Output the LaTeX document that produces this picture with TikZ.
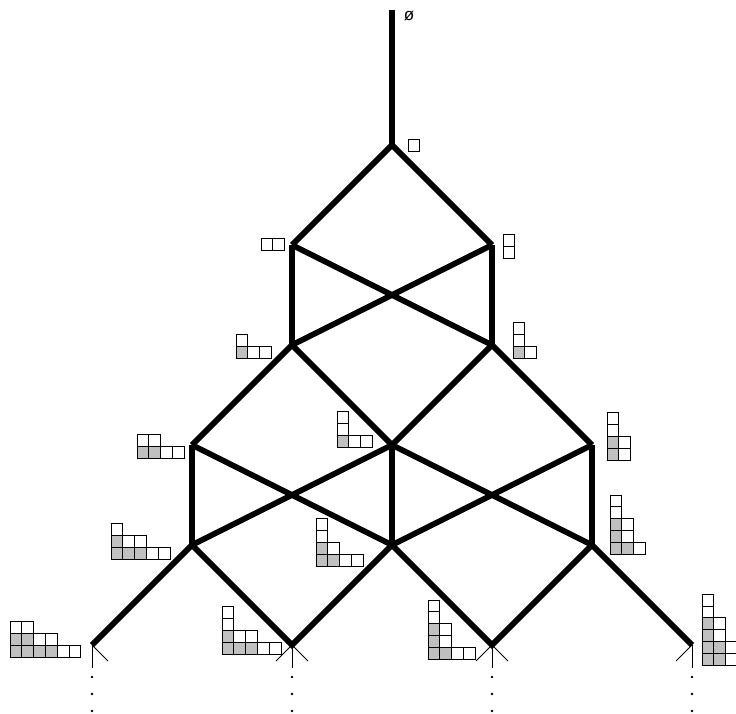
\documentclass[tikz,border=0pt]{standalone}
\usepackage{fontspec}
\setmainfont{Liberation Sans}
\usetikzlibrary{calc}
\definecolor{cellGray}{HTML}{C0C0C0}
\def\cellsz{11.8}
\tikzset{
    young/.pic={
        \foreach \len/\sh [count=\r from 0] in {#1} {
            \foreach \c in {1,...,\len} {
                \ifnum\c>\sh \def\cellfill{white}\else\def\cellfill{cellGray}\fi
                \draw[cell, fill=\cellfill] ({(\c-1)*\cellsz}, {-\r*\cellsz}) rectangle ++(\cellsz,-\cellsz);
            }
        }
    },
}
\begin{document}
\begin{tikzpicture}[
    x=1pt, y=-1pt,
    edge/.style={line width=5.8pt},
    stub/.style={line width=0.9pt},
    cell/.style={draw, line width=0.9pt},
    dot/.style={circle, fill, inner sep=0pt, minimum size=2.6pt},
]
\useasboundingbox (0,0) rectangle (736,714);

% ===== vertices =====
\coordinate (top) at (392,10);
\coordinate (n1) at (392,145);
\coordinate (n2l) at (292,245);
\coordinate (n2r) at (492,245);
\coordinate (n3l) at (292,345);
\coordinate (n3r) at (492,345);
\coordinate (n4a) at (192,445);
\coordinate (n4b) at (392,445);
\coordinate (n4c) at (592,445);
\coordinate (n5a) at (192,545);
\coordinate (n5b) at (392,545);
\coordinate (n5c) at (592,545);
\coordinate (n6a) at (92,645);
\coordinate (n6b) at (292,645);
\coordinate (n6c) at (492,645);
\coordinate (n6d) at (692,645);

% ===== edges =====
\draw[edge] (top) -- (n1);
\draw[edge] (n2l) -- (n1) -- (n2r);
\draw[edge] (n2l) -- (n3l);
\draw[edge] (n2r) -- (n3r);
\draw[edge] (n2l) -- (n3r);
\draw[edge] (n2r) -- (n3l);
\draw[edge] (n4a) -- (n3l) -- (n4b) -- (n3r) -- (n4c);
\draw[edge] (n4a) -- (n5a);
\draw[edge] (n4b) -- (n5b);
\draw[edge] (n4c) -- (n5c);
\draw[edge] (n4a) -- (n5b);
\draw[edge] (n4b) -- (n5a);
\draw[edge] (n4b) -- (n5c);
\draw[edge] (n4c) -- (n5b);
\draw[edge] (n6a) -- (n5a) -- (n6b) -- (n5b) -- (n6c) -- (n5c) -- (n6d);

% ===== bottom stubs and dots =====
\foreach \v in {n6a,n6b,n6c,n6d} {
    \draw[stub] (\v) -- ++(0,23);
    \node[dot] (\v-d1) at ($(\v)+(0,32)$) {};
    \node[dot] (\v-d2) at ($(\v)+(0,49)$) {};
    \node[dot] (\v-d3) at ($(\v)+(0,66)$) {};
}
\foreach \v in {n6a,n6b,n6c} \draw[stub] (\v) -- ++(16,16);
\foreach \v in {n6b,n6c,n6d} \draw[stub] (\v) -- ++(-16,16);

% ===== labels =====
\node[font=\fontsize{17}{19}\selectfont] (empty) at (409,16) {ø};
\pic (yd1) at (408,151) {young={1/0}};
\pic (yd2l) at (261,250) {young={2/0}};
\pic (yd2r) at (503,258) {young={1/0,1/0}};
\pic (yd3l) at (236,358) {young={3/1,1/0}};
\pic (yd3r) at (513,358) {young={2/1,1/0,1/0}};
\pic (yd4a) at (137,458) {young={4/2,2/0}};
\pic (yd4b) at (337,447) {young={3/1,1/0,1/0}};
\pic (yd4c) at (607,460) {young={2/1,2/1,1/0,1/0}};
\pic (yd5a) at (111,559) {young={5/3,3/1,1/0}};
\pic (yd5b) at (316,566) {young={4/2,2/1,1/0,1/0}};
\pic (yd5c) at (610,554) {young={3/2,2/1,2/1,1/0,1/0}};
\pic (yd6a) at (10,657) {young={6/4,4/2,2/0}};
\pic (yd6b) at (222,654) {young={5/3,3/1,1/0,1/0}};
\pic (yd6c) at (428,659) {young={4/2,2/1,2/1,1/0,1/0}};
\pic (yd6d) at (702,665) {young={3/2,3/2,2/1,2/1,1/0,1/0}};

\end{tikzpicture}
\end{document}
